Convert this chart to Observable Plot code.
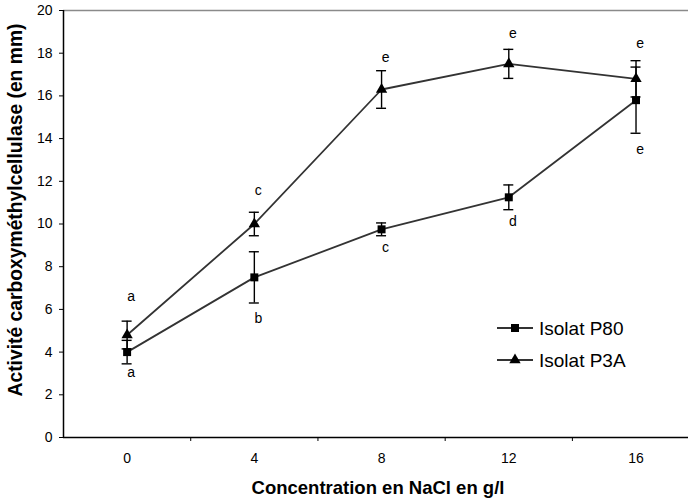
<!DOCTYPE html>
<html>
<head>
<meta charset="utf-8">
<script src="https://cdn.jsdelivr.net/npm/d3@7"></script>
<script src="https://cdn.jsdelivr.net/npm/@observablehq/plot@0.6"></script>
<style>
  html, body { margin: 0; padding: 0; background: #fff; }
  #chart { width: 688px; height: 500px; }
</style>
</head>
<body>
<div id="chart"></div>
<script>
const concentrations = [0, 4, 8, 12, 16];
const seriesNames = ["Isolat P80", "Isolat P3A"];
const p80Mean = [4.0, 7.5, 9.75, 11.25, 15.8];
const p80Err = [0.55, 1.2, 0.3, 0.58, 1.55];
const p80Letters = ["a", "b", "c", "d", "e"];
const p80LetterY = [3.06, 5.57, 8.91, 10.13, 13.49];
const p3aMean = [4.8, 10.0, 16.3, 17.5, 16.8];
const p3aErr = [0.65, 0.55, 0.88, 0.68, 0.85];
const p3aLetters = ["a", "c", "e", "e", "e"];
const p3aLetterY = [6.6, 11.55, 17.81, 18.92, 18.45];
const xTickLabels = [0, 4, 8, 12, 16];
const xTickMarks = [2, 6, 10, 14];
const yTicks = [0, 2, 4, 6, 8, 10, 12, 14, 16, 18, 20];
const xTitle = "Concentration en NaCl en g/l";
const yTitle = "Activité carboxyméthylcellulase (en mm)";

const symbols = {"Isolat P80": "square", "Isolat P3A": "triangle"};

const rows = [];
concentrations.forEach((c, i) => {
  rows.push({series: seriesNames[0], x: c, y: p80Mean[i], err: p80Err[i], letter: p80Letters[i], ly: p80LetterY[i]});
});
concentrations.forEach((c, i) => {
  rows.push({series: seriesNames[1], x: c, y: p3aMean[i], err: p3aErr[i], letter: p3aLetters[i], ly: p3aLetterY[i]});
});

const font = "'Liberation Sans', Arial, sans-serif";

const chart = Plot.plot({
  width: 688,
  height: 500,
  marginLeft: 63,
  marginRight: 0,
  marginTop: 10,
  marginBottom: 63,
  style: {fontFamily: font, fontSize: "14px", background: "#fff", color: "#000"},
  x: {domain: [-2, 17.65], axis: null},
  y: {domain: [0, 20], axis: null},
  marks: [
    Plot.ruleY([20], {stroke: "#8a8a8a", strokeWidth: 1.5}),
    Plot.axisY({ticks: yTicks, tickSize: 4, tickPadding: 7, fontSize: 14, stroke: "#000", label: null}),
    Plot.axisX({ticks: xTickLabels, tickSize: 0, tickPadding: 16, fontSize: 14, label: null}),
    Plot.axisX({ticks: xTickMarks, tickSize: 4, tickFormat: () => "", label: null, stroke: "#000"}),
    Plot.ruleX([-2], {stroke: "#000", strokeWidth: 1.5}),
    Plot.ruleY([0], {stroke: "#000", strokeWidth: 1.5}),
    Plot.line(rows, {x: "x", y: "y", z: "series", stroke: "#333", strokeWidth: 1.8}),
    Plot.ruleX(rows, {x: "x", y1: d => d.y - d.err, y2: d => d.y + d.err, stroke: "#000", strokeWidth: 1.4}),
    Plot.ruleY(rows, {y: d => d.y + d.err, x1: "x", x2: "x", insetLeft: -5, insetRight: -5, stroke: "#000", strokeWidth: 1.4}),
    Plot.ruleY(rows, {y: d => d.y - d.err, x1: "x", x2: "x", insetLeft: -5, insetRight: -5, stroke: "#000", strokeWidth: 1.4}),
    Plot.dot(rows.filter(d => d.series === seriesNames[0]), {x: "x", y: "y", symbol: "square", r: 4.5, fill: "#000", stroke: "none"}),
    Plot.dot(rows.filter(d => d.series === seriesNames[1]), {x: "x", y: "y", symbol: "triangle", r: 4.2, fill: "#000", stroke: "none"}),
    Plot.text(rows, {x: "x", y: "ly", text: "letter", dx: 4, fontSize: 14, fill: "#000"})
  ]
});

const svg = d3.select(chart);

// axis titles
svg.append("text").attr("x", 378).attr("y", 494).attr("text-anchor", "middle")
  .style("font-family", font).style("font-size", "18.5px").style("font-weight", "bold")
  .attr("fill", "#000").text(xTitle);
svg.append("text").attr("transform", "translate(22,210) rotate(-90)").attr("text-anchor", "middle")
  .style("font-family", font).style("font-size", "19.3px").style("font-weight", "bold")
  .attr("fill", "#000").text(yTitle);

// in-plot legend
const lg = svg.append("g").attr("aria-label", "legend");
seriesNames.forEach((name, i) => {
  const yy = 328 + i * 32;
  const g = lg.append("g");
  g.append("line").attr("x1", 497).attr("x2", 533).attr("y1", yy).attr("y2", yy)
    .attr("stroke", "#333").attr("stroke-width", 1.8);
  g.append("path").attr("transform", `translate(515,${yy})`)
    .attr("d", d3.symbol(symbols[name] === "square" ? d3.symbolSquare : d3.symbolTriangle, symbols[name] === "square" ? 64 : 56)())
    .attr("fill", "#000");
  g.append("text").attr("x", 539).attr("y", yy).attr("dy", "0.35em").attr("text-anchor", "start")
    .style("font-family", font).style("font-size", "19px").attr("fill", "#000").text(name);
});

document.getElementById("chart").appendChild(chart);
</script>
</body>
</html>
